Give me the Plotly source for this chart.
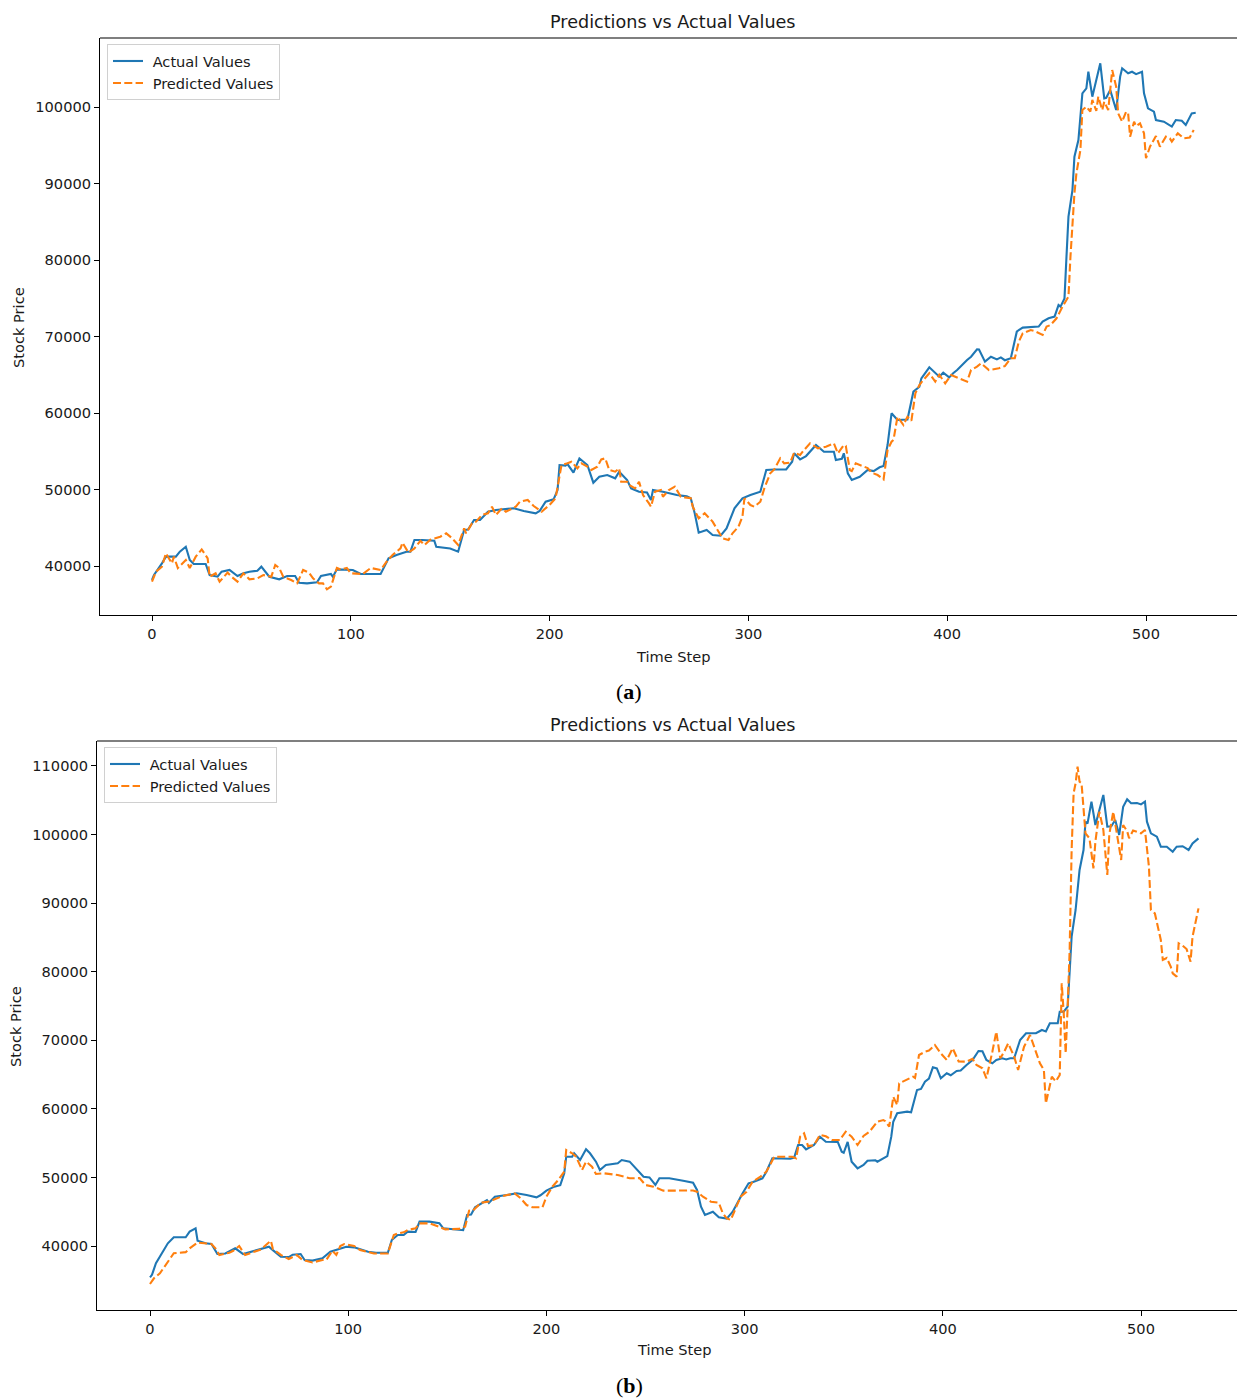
import plotly.graph_objects as go

# ---- Panel (a): actual vs predicted stock price by time step ----
a_actual_t = [0, 1, 5, 7, 12, 14, 17, 19, 21, 27, 29, 33, 35, 39, 43, 46, 49, 53, 55, 59,
              64, 68, 72, 74, 78, 83, 85, 90, 91, 93, 101, 105, 115, 119, 123, 128, 130, 132, 136, 142,
              143, 150, 154, 157, 159, 162, 165, 169, 173, 182, 187, 193, 195, 198, 202, 204, 205, 208, 209, 212,
              215, 219, 222, 225, 229, 233, 235, 239, 241, 245, 249, 251, 252, 257, 264, 269, 271, 273, 275, 279,
              282, 286, 289, 293, 297, 301, 306, 309, 313, 319, 322, 323, 326, 329, 334, 338, 343, 344, 347, 348,
              350, 352, 356, 360, 363, 366, 368, 370, 372, 375, 380, 381, 383, 386, 387, 391, 396, 398, 401, 403,
              405, 410, 412, 415, 416, 419, 422, 425, 427, 429, 432, 435, 436, 438, 443, 446, 448, 451, 454, 456,
              457, 459, 460, 461, 463, 464, 466, 468, 470, 471, 473, 475, 477, 479, 480, 482, 485, 487, 488, 491,
              493, 495, 498, 499, 501, 504, 505, 509, 513, 515, 518, 520, 523, 525]
a_actual_v = [38170, 38820, 40350, 41220, 41220, 41870, 42520, 40780, 40260, 40260, 38820, 38600, 39260, 39480, 38690, 39040, 39260, 39390, 39910, 38600,
              38260, 38690, 38690, 37820, 37730, 37870, 38690, 38950, 38600, 39560, 39480, 38950, 38950, 41000, 41440, 41870, 41870, 43400, 43400, 43300,
              42520, 42300, 41870, 44700, 44770, 46010, 46030, 47100, 47320, 47540, 47190, 46890, 47200, 48400, 48720, 49930, 53200, 53130, 53330, 52200,
              54070, 53200, 50890, 51670, 51890, 51460, 52320, 51240, 50150, 49710, 49600, 48630, 49930, 49710, 49280, 49100, 48850, 46890, 44350, 44700,
              44050, 43960, 44920, 47540, 48850, 49280, 49710, 52550, 52620, 52620, 53630, 54730, 53940, 54370, 55810, 54940, 54940, 53850, 54000, 54730,
              52120, 51240, 51670, 52550, 52400, 52900, 53070, 55810, 59960, 59080, 59150, 60390, 62790, 63440, 64530, 65970, 64750, 65270, 64650, 65200,
              65620, 66920, 67360, 68320, 68300, 66710, 67360, 67000, 67270, 66900, 67150, 70630, 70850, 71160, 71290, 71300, 71940, 72380, 72600, 74110,
              73900, 74980, 80440, 85660, 89140, 93500, 95680, 101780, 102430, 104610, 101350, 103530, 105710, 101130, 101200, 102210, 99600, 103970, 105060, 104410,
              104610, 104300, 104610, 101780, 99820, 99390, 98300, 98080, 97430, 98300, 98200, 97650, 99170, 99250]

a_pred_t = [0, 2, 5, 7, 8, 10, 11, 13, 17, 19, 22, 25, 28, 29, 32, 34, 38, 40, 43, 46,
            49, 53, 56, 60, 62, 64, 66, 70, 73, 76, 79, 81, 84, 86, 88, 90, 93, 95, 98, 100,
            106, 110, 115, 118, 121, 125, 126, 129, 132, 135, 137, 140, 145, 148, 151, 154, 157, 158, 161, 163,
            166, 169, 171, 173, 176, 178, 183, 185, 189, 192, 196, 200, 203, 204, 206, 209, 211, 214, 216, 219,
            221, 224, 226, 228, 230, 233, 235, 236, 239, 240, 243, 245, 247, 250, 251, 253, 256, 257, 260, 263,
            266, 268, 271, 272, 275, 278, 282, 284, 287, 290, 292, 295, 297, 298, 301, 303, 306, 308, 311, 313,
            316, 318, 321, 323, 326, 328, 331, 335, 339, 343, 345, 348, 349, 351, 352, 354, 357, 360, 362, 365,
            368, 370, 372, 373, 375, 378, 380, 382, 384, 386, 388, 391, 394, 396, 399, 402, 406, 410, 412, 415,
            417, 421, 426, 429, 432, 434, 436, 438, 442, 444, 448, 450, 452, 455, 458, 461, 462, 463, 464, 465,
            467, 468, 470, 472, 473, 475, 476, 478, 479, 481, 483, 485, 486, 488, 490, 491, 492, 494, 495, 497,
            499, 500, 502, 505, 507, 510, 512, 513, 516, 519, 522, 524]
a_pred_v = [37950, 39260, 39910, 41660, 41220, 40350, 41220, 39740, 40780, 39740, 41220, 42170, 41000, 38600, 39040, 37950, 39130, 38600, 37950, 39040,
            38260, 38390, 38820, 38600, 40130, 39740, 38600, 38170, 37730, 39480, 39130, 38390, 37730, 37730, 36950, 37300, 39740, 39520, 39740, 39040,
            38950, 39740, 39480, 40560, 41440, 42300, 43050, 41740, 42300, 43300, 42740, 43430, 43830, 44270, 43620, 42740, 44920, 44270, 45580, 45800,
            46670, 46890, 47750, 46670, 47540, 47100, 47750, 48400, 48630, 47840, 47100, 48000, 48850, 50370, 53200, 53420, 53630, 52770, 53420, 52980,
            52550, 52980, 53940, 54070, 52550, 52330, 52770, 51020, 51020, 50590, 50150, 51020, 49280, 48190, 47750, 49710, 49930, 49060, 49930, 50370,
            49060, 48970, 48850, 47750, 46230, 46890, 45800, 44920, 43620, 43400, 44270, 45140, 46450, 48850, 47970, 47750, 48400, 50150, 52120, 52620,
            54070, 53420, 53500, 54810, 54510, 55160, 56030, 55380, 55600, 56030, 54730, 55810, 55700, 52550, 52400, 53420, 53130, 52800, 52200, 51890,
            51330, 55160, 56250, 56500, 59520, 58430, 59520, 59000, 62580, 63660, 64320, 65190, 64100, 65000, 63880, 64970, 64530, 64100, 65620, 66060,
            66500, 65620, 65840, 66140, 67150, 67150, 69320, 70410, 70850, 70700, 70200, 71290, 71500, 72380, 73900, 75210, 80440, 84800, 88720, 91330,
            94380, 99600, 100040, 99390, 100920, 99500, 101350, 99600, 100700, 99600, 104830, 102650, 99170, 98080, 99390, 99200, 96130, 98080, 97500, 97860,
            96560, 93300, 94820, 96210, 94820, 96120, 95900, 95470, 96560, 95910, 96000, 97000]

# ---- Panel (b): actual vs predicted stock price by time step ----
b_actual_t = [0, 1, 3, 6, 9, 12, 18, 20, 23, 24, 28, 31, 34, 38, 43, 47, 51, 55, 60, 62,
              66, 70, 72, 76, 78, 82, 87, 91, 96, 99, 103, 110, 114, 120, 122, 125, 128, 130, 134, 136,
              141, 146, 148, 156, 158, 160, 162, 164, 167, 170, 171, 174, 180, 185, 190, 195, 197, 200, 204, 207,
              209, 210, 213, 214, 217, 220, 222, 225, 227, 230, 236, 238, 242, 246, 249, 252, 255, 257, 262, 269,
              274, 276, 278, 280, 284, 287, 291, 294, 297, 299, 302, 304, 309, 311, 314, 316, 323, 325, 327, 329,
              331, 335, 338, 341, 347, 349, 350, 352, 354, 357, 360, 362, 366, 367, 371, 372, 374, 375, 377, 382,
              384, 387, 389, 391, 393, 395, 397, 399, 402, 404, 407, 409, 412, 415, 418, 420, 422, 425, 427, 430,
              432, 434, 436, 439, 442, 447, 450, 452, 454, 458, 459, 461, 463, 465, 467, 469, 471, 472, 473, 475,
              477, 479, 481, 483, 485, 487, 489, 491, 493, 495, 498, 500, 502, 503, 505, 508, 510, 513, 516, 518,
              521, 524, 526, 529]
b_actual_v = [35430, 35800, 37480, 38940, 40390, 41270, 41270, 42090, 42580, 40780, 40390, 40300, 38830, 38900, 39660, 38830, 39170, 39510, 39900, 39400,
              38440, 38390, 38730, 38830, 37960, 37870, 38200, 39170, 39660, 39900, 39800, 39170, 39020, 39020, 40870, 41600, 41600, 42090, 42050, 43550,
              43550, 43310, 42580, 42430, 42300, 44520, 44600, 45640, 46230, 46700, 46300, 47190, 47430, 47680, 47430, 47100, 47400, 48070, 48650, 48870,
              50600, 53020, 53020, 53520, 52540, 54100, 53520, 52300, 51080, 51810, 52060, 52540, 52300, 51080, 50110, 50000, 48900, 49880, 49880, 49520,
              49230, 48170, 45730, 44520, 45000, 44180, 44000, 45000, 46710, 47690, 49140, 49300, 49870, 50840, 52790, 52790, 52720, 52900, 54730, 54730,
              54100, 54730, 55940, 55210, 55170, 53750, 53600, 55170, 52300, 51330, 51810, 52440, 52500, 52300, 53020, 53100, 55940, 58130, 59350, 59600,
              59500, 62750, 62900, 63960, 64400, 66060, 65900, 64460, 65190, 64900, 65520, 65600, 66400, 67120, 68440, 68400, 67120, 66640, 67120, 67370,
              67200, 67370, 67370, 70040, 71020, 71020, 71500, 71300, 72480, 72500, 74170, 74170, 74900, 85110, 89000, 94830, 97750, 101880, 101600, 104800,
              101400, 103580, 105770, 101150, 101200, 102120, 99940, 104060, 105140, 104560, 104600, 104400, 104800, 101880, 100180, 99690, 98230, 98230, 97500, 98230,
              98300, 97750, 98720, 99450]

b_pred_t = [0, 2, 5, 8, 12, 18, 20, 24, 31, 33, 35, 40, 42, 45, 48, 56, 61, 62, 66, 70,
            74, 77, 82, 87, 89, 92, 94, 96, 98, 103, 106, 109, 113, 120, 123, 125, 128, 130, 134, 136,
            141, 146, 149, 156, 159, 161, 163, 167, 171, 173, 178, 184, 187, 190, 193, 198, 200, 203, 206, 209,
            210, 213, 215, 218, 220, 223, 225, 229, 236, 242, 247, 250, 254, 259, 266, 271, 274, 276, 279, 283,
            287, 289, 291, 293, 295, 298, 301, 304, 308, 311, 315, 318, 324, 326, 328, 330, 332, 335, 338, 341,
            344, 348, 351, 354, 357, 360, 363, 367, 370, 371, 373, 375, 377, 378, 382, 385, 386, 388, 391, 393,
            396, 399, 402, 405, 408, 412, 415, 417, 420, 422, 425, 427, 429, 431, 433, 436, 438, 441, 444, 447,
            449, 451, 452, 455, 457, 459, 460, 461, 462, 463, 464, 465, 466, 467, 468, 469, 470, 472, 474, 476,
            477, 479, 481, 483, 484, 486, 488, 490, 491, 493, 494, 496, 500, 502, 504, 505, 507, 508, 510, 511,
            513, 515, 516, 518, 519, 521, 523, 525, 526, 529]
b_pred_v = [34460, 35290, 36020, 37230, 38940, 39100, 39660, 40490, 40300, 39660, 38690, 39000, 39300, 40000, 38690, 39500, 40780, 39560, 38700, 38100,
            38700, 37960, 37600, 37960, 38000, 39300, 38700, 40000, 40270, 40000, 39400, 39200, 38900, 38900, 41600, 41830, 42000, 42330, 42580, 43300,
            43300, 42800, 42430, 42500, 42820, 45150, 45200, 46310, 46500, 46720, 47290, 47680, 46960, 45980, 45640, 45640, 47190, 48650, 49620, 50840,
            54000, 53520, 53020, 51080, 52300, 51570, 50500, 50600, 50350, 49880, 49900, 48900, 48650, 48070, 48070, 48170, 48100, 47920, 47190, 46460,
            46310, 44770, 44040, 43800, 45250, 47190, 47920, 49380, 50110, 50840, 53020, 53000, 53020, 52800, 55940, 56430, 54580, 54700, 56190, 56000,
            55460, 55460, 56670, 55940, 54730, 56040, 56670, 58130, 58370, 58200, 57400, 61770, 60560, 63720, 64210, 64690, 64500, 67850, 68330, 68500,
            69310, 68100, 67120, 68830, 66900, 66880, 67300, 66400, 65910, 64460, 68330, 71250, 67370, 68330, 69560, 67610, 65670, 69070, 70770, 68100,
            66640, 65670, 60800, 64690, 64000, 64940, 78310, 74000, 68100, 74900, 83170, 97750, 106020, 107480, 109900, 107700, 107480, 100180, 99450, 95080,
            99000, 103340, 100670, 94100, 100000, 103340, 99940, 96290, 101400, 100500, 99450, 100600, 100180, 100670, 95320, 89000, 88500, 87060, 84620, 81710,
            82000, 80740, 79770, 79280, 84140, 83800, 83300, 81460, 85110, 89240]

W, H = 1237, 1398
BLUE = "#1f77b4"
ORANGE = "#ff7f0e"
FONT = "DejaVu Sans"
BASE = 14.6
TITLE = 17.6


def px_x(p):
    return p / W


def px_y(p):
    return 1 - p / H


fig = go.Figure()

panels = [
    dict(suffix="", leg="legend", t_act=a_actual_t, v_act=a_actual_v, t_pred=a_pred_t, v_pred=a_pred_v),
    dict(suffix="2", leg="legend2", t_act=b_actual_t, v_act=b_actual_v, t_pred=b_pred_t, v_pred=b_pred_v),
]
for p in panels:
    fig.add_trace(go.Scatter(
        x=p["t_act"], y=p["v_act"], mode="lines", name=" Actual Values",
        line=dict(color=BLUE, width=2.1),
        xaxis="x" + p["suffix"], yaxis="y" + p["suffix"], legend=p["leg"]))
    fig.add_trace(go.Scatter(
        x=p["t_pred"], y=p["v_pred"], mode="lines", name=" Predicted Values",
        line=dict(color=ORANGE, width=2.1, dash="8px,3.3px"),
        xaxis="x" + p["suffix"], yaxis="y" + p["suffix"], legend=p["leg"]))

axis_common = dict(
    showgrid=False, zeroline=False, showline=True, linecolor="black", linewidth=1.1,
    ticks="outside", ticklen=5, tickwidth=1.1, tickcolor="black",
    tickfont=dict(family=FONT, size=BASE, color="#1a1a1a"), mirror=False,
)

# panel geometry in pixels: left, top, bottom, tick reference positions
geo_a = dict(left=100, top=38, bottom=615, x0=152, xs=1.988, yref=(566, 40000), ys=130.72)
geo_b = dict(left=97, top=741, bottom=1310, x0=150, xs=1.982, yref=(1246, 40000), ys=145.83)


def xrange(g):
    return [-(g["x0"] - g["left"]) / g["xs"], (W - g["x0"]) / g["xs"]]


def yrange(g):
    ypx, yval = g["yref"]
    return [yval - (g["bottom"] - ypx) * g["ys"], yval + (ypx - g["top"]) * g["ys"]]


legend_common = dict(xanchor="left", yanchor="top",
                     bgcolor="rgba(255,255,255,0.85)", bordercolor="#d0d0d0", borderwidth=1,
                     font=dict(family=FONT, size=BASE, color="#1a1a1a"), itemwidth=30, tracegroupgap=0)

fig.update_layout(
    width=W, height=H, margin=dict(l=0, r=0, t=0, b=0),
    paper_bgcolor="white", plot_bgcolor="white",
    font=dict(family=FONT, size=BASE, color="#1a1a1a"),
    xaxis=dict(domain=[px_x(geo_a["left"]), 1], range=xrange(geo_a), anchor="y",
               tickvals=[0, 100, 200, 300, 400, 500], **axis_common),
    yaxis=dict(domain=[px_y(geo_a["bottom"]), px_y(geo_a["top"])], range=yrange(geo_a), anchor="x",
               tickvals=[40000, 50000, 60000, 70000, 80000, 90000, 100000], tickformat="d",
               **axis_common),
    xaxis2=dict(domain=[px_x(geo_b["left"]), 1], range=xrange(geo_b), anchor="y2",
                tickvals=[0, 100, 200, 300, 400, 500], **axis_common),
    yaxis2=dict(domain=[px_y(geo_b["bottom"]), px_y(geo_b["top"])], range=yrange(geo_b), anchor="x2",
                tickvals=[40000, 50000, 60000, 70000, 80000, 90000, 100000, 110000], tickformat="d",
                **axis_common),
    legend=dict(x=px_x(107), y=px_y(44), **legend_common),
    legend2=dict(x=px_x(104), y=px_y(747), **legend_common),
    showlegend=True,
)

# top spines of both panels
for g in (geo_a, geo_b):
    fig.add_shape(type="line", xref="paper", yref="paper",
                  x0=px_x(g["left"]), x1=1, y0=px_y(g["top"]), y1=px_y(g["top"]),
                  line=dict(color="black", width=1.1))

texts = [
    ("Predictions vs Actual Values", 673, 22, TITLE, 0),
    ("Time Step", 673, 656, BASE, 0),
    ("Stock Price", 18, 328, BASE, -90),
    ("Predictions vs Actual Values", 673, 725, TITLE, 0),
    ("Time Step", 674, 1349, BASE, 0),
    ("Stock Price", 15, 1027, BASE, -90),
]
for txt, x, y, size, ang in texts:
    fig.add_annotation(text=txt, xref="paper", yref="paper", x=px_x(x), y=px_y(y),
                       xanchor="center", yanchor="middle", showarrow=False, textangle=ang,
                       font=dict(family=FONT, size=size, color="#1a1a1a"))

for lab, y in (("a", 692), ("b", 1385)):
    fig.add_annotation(text="(<b>" + lab + "</b>)", xref="paper", yref="paper",
                       x=px_x(629), y=px_y(y), xanchor="center", yanchor="middle", showarrow=False,
                       font=dict(family="Liberation Serif", size=22, color="black"))

fig.write_html("out.html")
